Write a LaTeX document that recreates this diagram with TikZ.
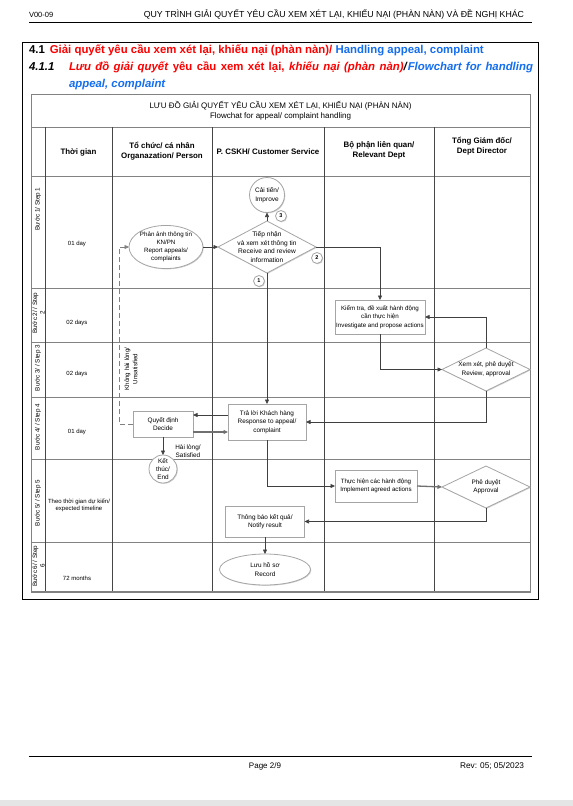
\documentclass[tikz,border=0pt]{standalone}
\usepackage{fontspec}
\setmainfont{Liberation Sans}
\usetikzlibrary{arrows.meta,shapes.geometric,shadows}
\definecolor{vnred}{RGB}{255,0,0}
\definecolor{enblue}{RGB}{20,110,240}
\definecolor{vgrid}{RGB}{70,70,70}
\definecolor{hgrid}{RGB}{130,130,130}
\definecolor{shapeline}{RGB}{165,165,165}
\definecolor{conline}{RGB}{64,64,64}
\begin{document}
\begin{tikzpicture}[x=1pt,y=-1pt,
 every node/.style={inner sep=0pt, outer sep=0pt},
 shapetext/.style={font=\fontsize{6.2}{8.2}\selectfont, align=center},
 sh/.style={draw=shapeline, fill=white, line width=0.8pt, drop shadow={shadow xshift=0.8pt, shadow yshift=-0.8pt, fill=black!35}},
 procbox/.style={sh, rectangle, shapetext},
 ovalshape/.style={sh, ellipse, shapetext},
 roundshape/.style={sh, circle, shapetext},
 decshape/.style={sh, diamond},
 numc/.style={sh, circle, minimum size=11pt, font=\fontsize{5.5}{6}\selectfont\bfseries},
 conn/.style={draw=conline, line width=0.6pt, -{Triangle[length=4.5pt,width=4pt]}},
 thickconn/.style={conn, line width=1.3pt, draw=conline!75},
 dashconn/.style={conn, draw=black!50, dash pattern=on 5pt off 3pt},
 celltext/.style={font=\fontsize{6}{7.5}\selectfont, align=center},
 steptext/.style={font=\fontsize{6.3}{7.5}\selectfont, align=center, rotate=90},
 headtext/.style={font=\fontsize{7.9}{10}\selectfont\bfseries, align=center},
 vline/.style={draw=vgrid, line width=0.8pt},
 hline/.style={draw=hgrid, line width=0.6pt},
]
\useasboundingbox (0,0) rectangle (573,806);
\fill[white] (0,0) rectangle (573,806);
\fill[black!10] (0,800) rectangle (573,806);

% page header
\node[anchor=base west, font=\fontsize{7.5}{8}\selectfont] (ver) at (29,17.5) {V00-09};
\node[anchor=base east, font=\fontsize{8.75}{9}\selectfont] (hdr) at (524,17.5) {QUY TRÌNH GIẢI QUYẾT YÊU CẦU XEM XÉT LẠI, KHIẾU NẠI (PHÀN NÀN) VÀ ĐỀ NGHỊ KHÁC};
\draw[line width=0.8pt] (29,22) -- (532,22);

% outer frame
\draw[line width=1pt] (22,42) rectangle (538,599);

% headings
\node[anchor=base west, font=\fontsize{11.4}{13}\selectfont\bfseries] (h41) at (29,53.5) {4.1\hspace{5pt}\textcolor{vnred}{Giải quyết yêu cầu xem xét lại, khiếu nại (phàn nàn)/} \textcolor{enblue}{Handling appeal, complaint}};
\node[anchor=base west, font=\fontsize{11.4}{13}\selectfont\bfseries\itshape] (h411) at (29,70.5) {4.1.1};
\node[anchor=base west, font=\fontsize{11.4}{13}\selectfont\bfseries] (h411a) at (69,70.5) {\makebox[464pt][s]{\textcolor{vnred}{\textit{Lưu đồ giải quyết} yêu cầu xem xét lại, \textit{khiếu nại (phàn nàn)}}\textit{/}\textcolor{enblue}{\textit{Flowchart for handling}}}};
\node[anchor=base west, font=\fontsize{11.4}{13}\selectfont\bfseries\itshape, text=enblue] (h411b) at (69,87) {appeal, complaint};

% table
\draw[hline] (31,94) rectangle (530,592);
\draw[hline] (31,127) -- (530,127);
\foreach \yy in {176,288,342,397,459,542} \draw[hline] (31,\yy) -- (530,\yy);
\foreach \xx in {45,112,212,324,434} \draw[vline] (\xx,127) -- (\xx,592);
\draw[draw=hgrid, line width=1.6pt] (31,592) -- (530,592);

\node[font=\fontsize{8}{10.5}\selectfont, align=center] (ttl) at (280.5,110.5) {LƯU ĐỒ GIẢI QUYẾT YÊU CẦU XEM XÉT LẠI, KHIẾU NẠI (PHÀN NÀN)\\Flowchat for appeal/ complaint handling};

\node[headtext] (c1) at (78.5,152) {Thời gian};
\node[headtext] (c2) at (162,151) {Tổ chức/ cá nhân\\Organazation/ Person};
\node[headtext] (c3) at (268,152) {P. CSKH/ Customer Service};
\node[headtext] (c4) at (379,150.5) {Bộ phận liên quan/\\Relevant Dept};
\node[headtext] (c5) at (482,146) {Tổng Giám đốc/\\Dept Director};

% step labels
\node[steptext] (s1) at (38,209) {Bước 1/ Step 1};
\node[steptext] (s2) at (38.5,313) {Bước 2/ / Step\\2};
\node[steptext] (s3) at (38,368) {Bước 3/ / Step 3};
\node[steptext] (s4) at (38,427) {Bước 4/ / Step 4};
\node[steptext] (s5) at (38,503) {Bước 5/ / Step 5};
\node[steptext] (s6) at (38.5,566) {Bước 6/ / Step\\6};

% time labels
\node[celltext] (t1) at (77,244) {01 day};
\node[celltext] (t2) at (77,323) {02 days};
\node[celltext] (t3) at (77,374) {02 days};
\node[celltext] (t4) at (77,432) {01 day};
\node[celltext] (t5) at (79,505.5) {Theo thời gian dự kiến/\\expected timeline};
\node[celltext] (t6) at (77,578) {72 months};

% shapes
\node[ovalshape, minimum width=74pt, minimum height=42pt] (report) at (166,247) {Phản ảnh thông tin\\KN/PN\\Report appeals/\\complaints};
\node[decshape, minimum width=98pt, minimum height=52pt] (d1) at (267,247) {};
\node[shapetext, font=\fontsize{6.6}{8.6}\selectfont] (d1t) at (267,247) {Tiếp nhận\\và xem xét thông tin\\Receive and review\\information};
\node[roundshape, minimum size=35pt, font=\fontsize{6.5}{8.5}\selectfont] (improve) at (267,195) {Cải tiến/\\Improve};
\node[numc] (n3) at (281,216) {3};
\node[numc] (n1) at (259,281) {1};
\node[numc] (n2) at (317,258) {2};

\node[procbox, minimum width=90pt, minimum height=34pt] (check) at (380,317) {Kiểm tra, đề xuất hành động\\cần thực hiện\\Investigate and propose actions};
\node[decshape, minimum width=88pt, minimum height=43pt] (review) at (486,369.5) {};
\node[shapetext, font=\fontsize{6.4}{8.4}\selectfont] (reviewt) at (486,369.5) {Xem xét, phê duyệt\\Review, approval};

\node[procbox, minimum width=78pt, minimum height=36pt, font=\fontsize{6.4}{8.4}\selectfont] (response) at (267,422) {Trả lời Khách hàng\\Response to appeal/\\complaint};
\node[procbox, minimum width=60pt, minimum height=26pt, font=\fontsize{6.4}{8.4}\selectfont] (decide) at (163,424) {Quyết định\\Decide};
\node[roundshape, minimum size=28pt, font=\fontsize{6.4}{8}\selectfont] (endc) at (163,469) {Kết\\thúc/\\End};

\node[procbox, minimum width=82pt, minimum height=32pt] (implement) at (376,486) {Thực hiện các hành động\\Implement agreed actions};
\node[decshape, minimum width=88pt, minimum height=42pt] (approval) at (486,487) {};
\node[shapetext, font=\fontsize{6.4}{8.4}\selectfont] (approvalt) at (486,487) {Phê duyệt\\Approval};

\node[procbox, minimum width=79pt, minimum height=31pt, font=\fontsize{6.4}{8.4}\selectfont] (notify) at (265,521.5) {Thông báo kết quả/\\Notify result};
\node[ovalshape, minimum width=91pt, minimum height=31pt, font=\fontsize{6.4}{8.4}\selectfont] (record) at (265,569.5) {Lưu hồ sơ\\Record};

% labels
\node[shapetext, font=\fontsize{6.4}{8}\selectfont] (sat) at (188,451) {Hài lòng/\\Satisfied};
\node[shapetext, rotate=90] (unsat) at (131,369) {Không hài lòng/\\Unsatisfied};

% connectors
\draw[conn] (report.east) -- (d1.west);
\draw[conn] (d1.north) -- (improve.south);
\draw[conn] (d1.south) -- (response.north);
\draw[conn] (d1.east) -| (check.north);
\draw[conn] (check.south) |- (review.west);
\draw[conn] (review.north) |- (check.east);
\draw[conn] (review.south) |- (response.east);
\draw[conn] ([yshift=7pt]response.west) -- ([yshift=9pt]decide.east);
\draw[thickconn] ([yshift=-8pt]decide.east) -- ([yshift=-10pt]response.west);
\draw[conn] (decide.south) -- (endc.north);
\draw[dashconn] (decide.west) -- ++(-14,0) |- (report.west);
\draw[conn] (response.south) |- (implement.west);
\draw[thickconn] (implement.east) -- (approval.west);
\draw[conn] (approval.south) |- (notify.east);
\draw[conn] (notify.south) -- (record.north);

% footer
\draw[line width=0.8pt] (29,756) -- (532,756);
\node[anchor=base, font=\fontsize{8}{9}\selectfont] (pg) at (265,768) {Page 2/9};
\node[anchor=base east, font=\fontsize{8.3}{9}\selectfont] (rev) at (524,768) {Rev: 05; 05/2023};
\end{tikzpicture}
\end{document}
